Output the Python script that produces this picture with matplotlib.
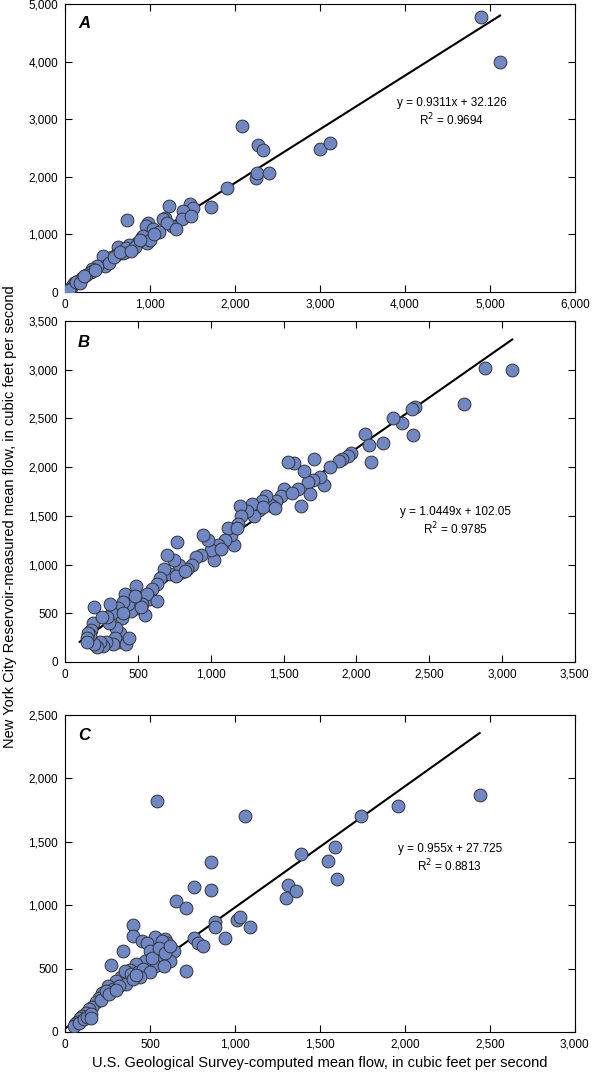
import matplotlib
matplotlib.use("Agg")
import matplotlib.pyplot as plt
import numpy as np
from matplotlib.ticker import FuncFormatter

plt.rcParams['font.family'] = ['Liberation Sans Narrow', 'Liberation Sans', 'DejaVu Sans']

ax_a = [4900,5120,3000,3120,2080,2270,2330,2250,2260,2400,1900,1720,1470,1500,1390,1380,1480,1220,1180,1150,1260,1200,1300,730,980,950,1040,900,920,960,1000,850,800,750,700,620,680,720,600,550,480,450,470,380,320,300,250,200,150,100,80,60,40,130,170,220,350,520,580,650,820,1100,1050,880,770]
ay_a = [4780,4000,2480,2580,2880,2550,2460,1980,2070,2060,1800,1480,1520,1460,1400,1270,1320,1500,1290,1260,1150,1200,1100,1250,1200,1150,1100,950,980,850,900,850,800,820,700,780,680,760,650,600,550,620,450,450,400,350,300,250,200,150,100,60,40,180,160,280,380,500,600,700,780,1050,1000,900,720]

bx_b = [3070,2880,2740,2400,2380,2390,2310,2250,2180,2100,2060,2090,1960,1940,1900,1880,1820,1780,1750,1710,1700,1670,1640,1600,1570,1530,1500,1480,1450,1420,1400,1380,1350,1330,1300,1280,1250,1200,1210,1190,1160,1140,1120,1100,1050,1020,1000,980,950,930,900,870,840,800,780,770,750,720,700,680,650,630,600,580,560,530,500,490,470,450,430,410,400,390,380,370,360,350,340,330,320,310,300,290,280,260,240,220,200,190,180,170,160,150,150,200,250,400,420,440,550,520,630,480,760,820,1070,1180,1360,1440,1560,1620,1680]
by_b = [3000,3020,2650,2620,2600,2330,2450,2500,2250,2050,2340,2230,2140,2110,2080,2060,2000,1820,1900,2080,1870,1850,1960,1780,2040,2050,1780,1700,1650,1600,1620,1700,1650,1560,1500,1620,1550,1600,1500,1420,1200,1300,1380,1250,1200,1050,1150,1250,1300,1100,1080,1000,950,920,1000,1230,1050,900,1100,950,860,800,750,650,700,600,550,780,650,520,600,700,620,450,300,200,550,350,250,180,500,600,400,460,200,160,200,150,180,400,330,280,300,250,200,560,460,500,180,250,480,560,630,680,880,930,1160,1380,1590,1580,1730,1600,1720]

cx_c = [2440,1960,1740,1590,1550,1600,1390,1310,1300,1360,1060,540,860,860,760,650,710,1010,1030,1090,880,880,940,760,780,810,710,400,400,340,270,450,530,590,600,570,640,620,480,500,560,530,470,420,380,330,300,250,220,200,180,160,140,120,100,90,70,60,50,80,110,130,150,210,280,350,360,390,430,460,510,550,590,620,500,440,320,240,260,580,400,420,300,150]
cy_c = [1870,1780,1700,1460,1350,1210,1400,1160,1060,1110,1700,1820,1340,1120,1140,1030,980,880,910,830,870,830,740,740,700,680,480,840,760,640,530,720,750,730,700,720,640,560,700,640,600,520,560,540,490,430,400,360,310,270,240,200,180,150,130,110,80,60,50,70,100,120,140,250,340,480,380,460,470,500,580,660,620,680,470,430,360,320,300,520,420,450,330,110]

panels = [
    dict(x=ax_a, y=ay_a, m=0.9311, b=32.126, eq="y = 0.9311x + 32.126", r2="0.9694",
         xmax=6000, xstep=1000, ymax=5000, ystep=1000, lab="A", ex=4553, ey=3280, ry=2986,
         l0=0, l1=5120, rect=[0.110, 0.7286, 0.861, 0.2677]),
    dict(x=bx_b, y=by_b, m=1.0449, b=102.05, eq="y = 1.0449x + 102.05", r2="0.9785",
         xmax=3500, xstep=500, ymax=3500, ystep=500, lab="B", ex=2683, ey=1540, ry=1360,
         l0=100, l1=3070, rect=[0.110, 0.3848, 0.861, 0.3169]),
    dict(x=cx_c, y=cy_c, m=0.955, b=27.725, eq="y = 0.955x + 27.725", r2="0.8813",
         xmax=3000, xstep=500, ymax=2500, ystep=500, lab="C", ex=2265, ey=1443, ry=1309,
         l0=0, l1=2440, rect=[0.110, 0.0409, 0.861, 0.2946]),
]

fig = plt.figure(figsize=(5.92, 10.76), dpi=100)
fmt = FuncFormatter(lambda v, p: f"{int(v):,}")
for P in panels:
    ax = fig.add_axes(P['rect'])
    ax.scatter(P['x'], P['y'], s=85, color='#6f87c4', edgecolor='#333333', linewidth=0.7, zorder=3)
    lx = np.array([P['l0'], P['l1']])
    ax.plot(lx, P['m'] * lx + P['b'], color='black', lw=1.5, zorder=2)
    ax.set_xlim(0, P['xmax']); ax.set_ylim(0, P['ymax'])
    ax.set_xticks(np.arange(0, P['xmax'] + 1, P['xstep']))
    ax.set_yticks(np.arange(0, P['ymax'] + 1, P['ystep']))
    ax.xaxis.set_major_formatter(fmt); ax.yaxis.set_major_formatter(fmt)
    ax.tick_params(direction='in', top=True, right=True, labelsize=8.5, length=5, pad=5)
    ax.text(P['ex'], P['ey'], P['eq'], ha='center', va='center', fontsize=8.5)
    ax.text(P['ex'], P['ry'], f"R$^2$ = {P['r2']}", ha='center', va='center', fontsize=8.5)
    ax.text(0.025, 0.96, P['lab'], transform=ax.transAxes, fontsize=12, fontweight='bold',
            fontstyle='italic', va='top')
    for s in ax.spines.values():
        s.set_linewidth(0.8)

fig.text(0.005, 0.52, "New York City Reservoir-measured mean flow, in cubic feet per second",
         rotation=90, ha='left', va='center', fontsize=10.5)
fig.text(0.54, 0.006, "U.S. Geological Survey-computed mean flow, in cubic feet per second",
         ha='center', va='bottom', fontsize=10.5)
fig.savefig("out.png", dpi=100)
